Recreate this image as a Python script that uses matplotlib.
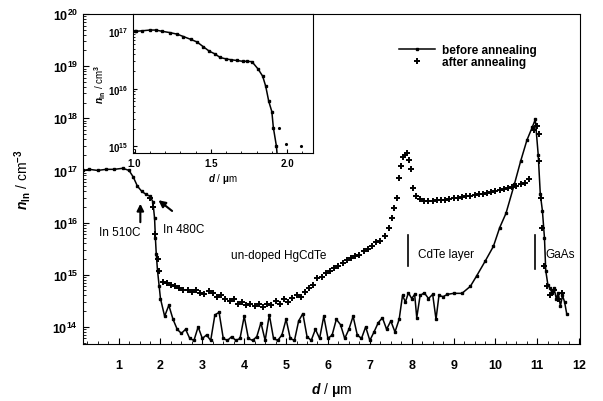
import numpy as np
import matplotlib
matplotlib.use('Agg')
import matplotlib.pyplot as plt
from matplotlib.ticker import MultipleLocator, LogLocator, NullFormatter

plt.rcParams['font.family'] = ['Liberation Sans', 'DejaVu Sans']
plt.rcParams['font.weight'] = 'bold'
plt.rcParams['mathtext.fontset'] = 'custom'
plt.rcParams['mathtext.rm'] = 'Liberation Sans:bold'
plt.rcParams['mathtext.it'] = 'Liberation Sans:bold:italic'
plt.rcParams['mathtext.bf'] = 'Liberation Sans:bold'
plt.rcParams['mathtext.default'] = 'rm'

# Before annealing (line with markers), depth d in um, n in cm^-3
# surface plateau and the drop
before_surf_d = [0.15, 0.3, 0.5, 0.7, 0.9, 1.1, 1.25, 1.35, 1.45, 1.55,
                 1.65, 1.75, 1.82, 1.86, 1.88, 1.90, 1.93, 1.97]
before_surf_n = [1.0e17, 1.05e17, 1.0e17, 1.05e17, 1.05e17, 1.1e17, 1.0e17,
                 7.5e16, 5.0e16, 4.0e16, 3.5e16, 3.2e16, 2.5e16, 1.2e16,
                 5e15, 2.5e15, 1.2e15, 6e14]
# noisy floor in the HgCdTe layer
before_floor_d = [2.0, 2.1, 2.2, 2.3, 2.4, 2.5, 2.6, 2.7, 2.8, 2.9,
                  3.0, 3.1, 3.2, 3.3, 3.4, 3.5, 3.6, 3.7, 3.8, 3.9,
                  4.0, 4.1, 4.2, 4.3, 4.4, 4.5, 4.6, 4.7, 4.8, 4.9,
                  5.0, 5.1, 5.2, 5.3, 5.4, 5.5, 5.6, 5.7, 5.8, 5.9,
                  6.0, 6.1, 6.2, 6.3, 6.4, 6.5, 6.6, 6.7, 6.8, 6.9,
                  7.0, 7.1, 7.2, 7.3, 7.4, 7.5, 7.6, 7.7]
before_floor_n = [3.5e14, 1.6e14, 2.6e14, 1.4e14, 9e13, 7.5e13, 9e13, 6e13,
                  5.5e13, 1.0e14,
                  6e13, 7e13, 5.5e13, 1.7e14, 1.9e14, 6e13, 5.5e13, 6.5e13,
                  5.5e13, 6e13,
                  1.6e14, 6e13, 5.5e13, 6.5e13, 1.2e14, 5.5e13, 1.7e14, 6e13,
                  5.5e13, 7e13,
                  1.4e14, 6e13, 5.5e13, 1.3e14, 1.8e14, 6.5e13, 5.5e13, 9e13,
                  6e13, 1.6e14,
                  6e13, 7e13, 1.4e14, 1.1e14, 6e13, 9e13, 1.6e14, 7e13,
                  6e13, 1.0e14,
                  5.5e13, 8e13, 1.2e14, 1.5e14, 9e13, 1.3e14, 8e13, 1.4e14]
# CdTe layer, interface peak and GaAs substrate
before_sub_d = [7.78, 7.85, 7.92, 8.0, 8.07, 8.12, 8.2, 8.3, 8.4, 8.5,
                8.58, 8.65, 8.75, 8.85, 9.0, 9.2, 9.4, 9.55, 9.75, 9.95,
                10.1, 10.25, 10.45, 10.6, 10.75, 10.88, 10.95, 11.02, 11.07,
                11.12, 11.17, 11.2, 11.25, 11.3, 11.35, 11.4, 11.45, 11.5,
                11.55, 11.6, 11.65, 11.7]
before_sub_n = [4e14, 3e14, 4.5e14, 3.5e14, 4.2e14, 1.5e14, 4e14, 4.5e14,
                3.5e14, 4.2e14, 1.4e14, 4e14, 3.8e14, 4.2e14, 4.4e14, 4.4e14,
                6e14, 9.5e14, 1.8e15, 3.5e15, 8e15, 1.5e16, 5.4e16, 1.5e17,
                3.8e17, 6.8e17, 9.5e17, 2.0e17, 3.5e16, 1.7e16, 5e15, 1.2e15,
                6.5e14, 5.5e14, 4.5e14, 5.5e14, 3.5e14, 4.5e14, 2.5e14, 4e14,
                3e14, 1.8e14]

# After annealing (markers only)
after_surf_d = [1.75, 1.82, 1.88, 1.93, 1.97]
after_surf_n = [3.0e16, 2.0e16, 6e15, 2e15, 1.2e15]
after_hgcdte_d = [2.05, 2.15, 2.25, 2.35, 2.45, 2.55, 2.65, 2.75, 2.85, 2.95,
                  3.05, 3.15, 3.25, 3.35, 3.45, 3.55, 3.65, 3.75, 3.85, 3.95,
                  4.05, 4.15, 4.25, 4.35, 4.45, 4.55, 4.65, 4.75, 4.85, 4.95,
                  5.05, 5.15, 5.25, 5.35, 5.45, 5.55, 5.65, 5.75, 5.85, 5.95,
                  6.05, 6.15, 6.25, 6.35, 6.45, 6.55, 6.65, 6.75, 6.85, 6.95,
                  7.05, 7.15, 7.25, 7.35, 7.45]
after_hgcdte_n = [7.4e14, 7e14, 6.5e14, 6.2e14, 5.5e14, 5e14, 5.2e14, 4.6e14,
                  5e14, 4.5e14,
                  4.2e14, 4.8e14, 4.4e14, 3.8e14, 4e14, 3.4e14, 3.2e14,
                  3.5e14, 2.8e14, 3.0e14,
                  2.6e14, 2.8e14, 2.5e14, 2.7e14, 2.4e14, 2.8e14, 2.6e14,
                  3.2e14, 2.7e14, 3.4e14,
                  3.0e14, 3.6e14, 4e14, 3.8e14, 4.6e14, 5.5e14, 6.5e14,
                  8.5e14, 9e14, 1.1e15,
                  1.2e15, 1.35e15, 1.45e15, 1.7e15, 1.9e15, 2.1e15, 2.3e15,
                  2.4e15, 2.9e15, 3.1e15,
                  3.6e15, 4.2e15, 4.5e15, 5.5e15, 8e15]
after_peak_d = [7.52, 7.58, 7.64, 7.70, 7.75, 7.80, 7.85, 7.89, 7.94, 7.98,
                8.03, 8.10]
after_peak_n = [1.2e16, 1.9e16, 3e16, 7.2e16, 1.2e17, 1.8e17, 2.0e17, 2.2e17,
                1.6e17, 1.05e17, 4.7e16, 3.2e16]
after_cdte_d = [8.2, 8.3, 8.4, 8.5, 8.6, 8.7, 8.8, 8.9, 9.0, 9.1,
                9.2, 9.3, 9.4, 9.5, 9.6, 9.7, 9.8, 9.9, 10.0, 10.1,
                10.2, 10.3, 10.4, 10.5, 10.6, 10.7, 10.8]
after_cdte_n = [2.8e16, 2.6e16, 2.6e16, 2.6e16, 2.7e16, 2.7e16, 2.75e16,
                2.8e16, 2.9e16, 3.0e16,
                3.1e16, 3.2e16, 3.3e16, 3.4e16, 3.5e16, 3.6e16, 3.7e16,
                3.9e16, 4.1e16, 4.3e16,
                4.5e16, 4.7e16, 4.9e16, 5.1e16, 5.4e16, 5.8e16, 6.8e16]
after_gaas_d = [10.93, 10.98, 11.03, 11.05, 11.08, 11.12, 11.17, 11.22,
                11.3, 11.4, 11.5, 11.6]
after_gaas_n = [6e17, 7e17, 5e17, 1.5e17, 3e16, 8e15, 1.5e15, 6e14, 4e14,
                5e14, 3.5e14, 4.5e14]

# Inset: near-surface detail
inset_d = [1.0, 1.01, 1.05, 1.10, 1.14, 1.18, 1.23, 1.28, 1.32, 1.37,
           1.41, 1.45, 1.49, 1.53, 1.56, 1.60, 1.63, 1.67, 1.71, 1.74,
           1.77, 1.81, 1.84, 1.86, 1.88, 1.90, 1.91, 1.93, 1.935]
inset_n = [1.0e17, 1.0e17, 1.02e17, 1.05e17, 1.05e17, 1.0e17, 9.5e16,
           8.9e16, 8.1e16, 7.2e16, 6.5e16, 5.4e16, 4.5e16, 4.0e16,
           3.5e16, 3.3e16, 3.2e16, 3.1e16, 3.0e16, 3.0e16, 2.95e16,
           2.2e16, 1.65e16, 1.1e16, 6e15, 4e15, 2.1e15, 1e15, 7e14]
inset_dots_d = [1.95, 1.99, 2.09]
inset_dots_n = [2.1e15, 1.07e15, 1.0e15]

before_d = before_surf_d + before_floor_d + before_sub_d
before_n = before_surf_n + before_floor_n + before_sub_n
after_d = (after_surf_d + after_hgcdte_d + after_peak_d + after_cdte_d
           + after_gaas_d)
after_n = (after_surf_n + after_hgcdte_n + after_peak_n + after_cdte_n
           + after_gaas_n)


fig = plt.figure(figsize=(6.03, 4.02), dpi=100)
ax = fig.add_axes([0.1376, 0.1418, 0.8244, 0.8209])

ax.plot(before_d, before_n, '-', color='k', linewidth=1.1, marker='s',
        markersize=1.8, label='before annealing')
ax.plot(after_d, after_n, linestyle='none', color='k', marker='+',
        markersize=4, markeredgewidth=1.4, label='after annealing')

ax.set_yscale('log')
ax.set_xlim(0.15, 12.02)
ax.set_ylim(4.7e13, 1e20)
ax.xaxis.set_major_locator(MultipleLocator(1))
ax.xaxis.set_minor_locator(MultipleLocator(0.25))
ax.yaxis.set_major_locator(LogLocator(base=10, numticks=10))
ax.yaxis.set_minor_locator(LogLocator(base=10, subs=np.arange(2, 10),
                                      numticks=20))
ax.yaxis.set_minor_formatter(NullFormatter())
ax.tick_params(which='both', direction='in', labelsize=9)
ax.tick_params(which='major', length=4)
ax.tick_params(which='minor', length=2)
ax.tick_params(axis='x', pad=11)
ax.set_xlabel('$\\it{d}$ / $\\mu$m', fontsize=10, labelpad=6)
ax.set_ylabel('$\\it{n}_{\\rm In}$ / cm$^{-3}$', fontsize=10, labelpad=14)

# Annotations
ax.annotate('', xy=(1.52, 2.6e16), xytext=(1.52, 9e15),
            arrowprops=dict(arrowstyle='-|>', color='k', lw=1.5))
ax.text(0.53, 5.8e15, 'In 510C', fontsize=8.5, fontweight='normal')
ax.annotate('', xy=(1.9, 2.9e16), xytext=(2.33, 1.55e16),
            arrowprops=dict(arrowstyle='-|>', color='k', lw=1.5))
ax.text(2.05, 6.5e15, 'In 480C', fontsize=8.5, fontweight='normal')
ax.text(3.68, 2.1e15, 'un-doped HgCdTe', fontsize=8.5, fontweight='normal')
ax.plot([7.91, 7.91], [5.8e15, 1.45e15], color='k', linewidth=1.2)
ax.text(8.15, 2.2e15, 'CdTe layer', fontsize=8.5, fontweight='normal')
ax.plot([10.95, 10.95], [5.8e15, 1.3e15], color='k', linewidth=1.2)
ax.text(11.2, 2.2e15, 'GaAs', fontsize=8.5, fontweight='normal')

ax.legend(loc='upper left', bbox_to_anchor=(0.62, 0.935), frameon=False,
          fontsize=8.5, handlelength=3, labelspacing=0.0, borderpad=0.2,
          handletextpad=0.6)

# Inset
ins = fig.add_axes([0.2206, 0.617, 0.2985, 0.3457])
ins.plot(inset_d, inset_n, '-', color='k', linewidth=1.1, marker='s',
         markersize=1.5)
ins.plot(inset_dots_d, inset_dots_n, linestyle='none', color='k',
         marker='.', markersize=2.5)
ins.set_yscale('log')
ins.set_xlim(0.99, 2.17)
ins.set_ylim(7.6e14, 2.0e17)
ins.xaxis.set_major_locator(MultipleLocator(0.5))
ins.xaxis.set_minor_locator(MultipleLocator(0.1))
ins.xaxis.set_major_formatter(plt.FormatStrFormatter('%.1f'))
ins.yaxis.set_major_locator(LogLocator(base=10, numticks=10))
ins.yaxis.set_minor_locator(LogLocator(base=10, subs=np.arange(2, 10),
                                       numticks=20))
ins.yaxis.set_minor_formatter(NullFormatter())
ins.tick_params(which='both', direction='in', labelsize=7)
ins.tick_params(which='major', length=3)
ins.tick_params(which='minor', length=1.5)
ins.set_xlabel('$\\it{d}$ / $\\mu$m', fontsize=7, labelpad=2)
ins.set_ylabel('$\\it{n}_{\\rm In}$ / cm$^{3}$', fontsize=7, labelpad=0)

fig.savefig('out.png', dpi=100)
